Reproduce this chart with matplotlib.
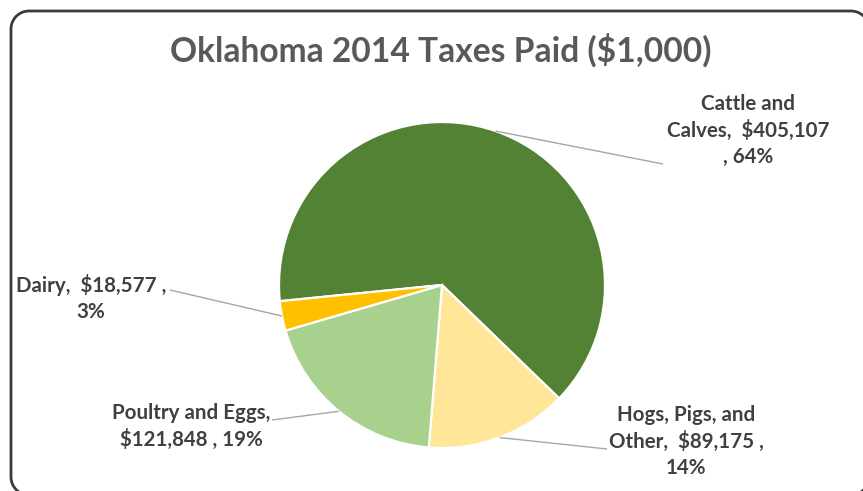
import matplotlib
matplotlib.use("Agg")
import matplotlib.pyplot as plt
import numpy as np
from matplotlib.lines import Line2D
from matplotlib.transforms import IdentityTransform

# Data
categories = ["Cattle and Calves", "Hogs, Pigs, and Other", "Poultry and Eggs", "Dairy"]
values = [405107, 89175, 121848, 18577]
colors = ["#548235", "#FFE699", "#A9D18E", "#FFC000"]
title = "Oklahoma 2014 Taxes Paid ($1,000)"

# Label layouts (line breaks per slice)
label_templates = [
    "Cattle and\nCalves,  ${v:,}\n, {p}%",
    "Hogs, Pigs, and\nOther,  ${v:,} ,\n{p}%",
    "Poultry and Eggs,\n${v:,} , {p}%",
    "Dairy,  ${v:,} ,\n{p}%",
]

W, H = 863, 491
FONT = ["Lato", "DejaVu Sans"]

fig = plt.figure(figsize=(W / 100, H / 100), dpi=100)
ax = fig.add_axes([0, 0, 1, 1])

# Pie geometry in pixel units (y measured from the bottom)
cx, cy, r = 442, H - 285, 163
wedges, _ = ax.pie(values, colors=colors, startangle=-174.3, counterclock=False,
                   center=(cx, cy), radius=r,
                   wedgeprops=dict(edgecolor="white", linewidth=1.6))

ax.set_xlim(0, W)
ax.set_ylim(0, H)
ax.set_aspect("equal")
ax.axis("off")

# Label positions (block centre) and leader-line endpoints, pixel coords from top
label_pos = [(748, 130.5), (686, 441.5), (191, 426.5), (91, 298)]
leader_end = [(663, 164), (607, 449), (272, 420), (170, 290)]

total = sum(values)
for w, v, tpl, (lx, ly), (ex, ey) in zip(wedges, values, label_templates, label_pos, leader_end):
    pct = round(v / total * 100)
    mid = np.deg2rad((w.theta1 + w.theta2) / 2)
    sx, sy = cx + r * np.cos(mid), cy + r * np.sin(mid)
    ax.plot([sx, ex], [sy, H - ey], color="#A6A6A6", lw=1.0, solid_capstyle="butt", zorder=1)
    ax.text(lx, H - ly, tpl.format(v=v, p=pct), ha="center", va="center",
            multialignment="center", fontsize=14.8, fontweight="bold",
            color="#404040", family=FONT, linespacing=1.38)

ax.text(440.5, H - 62, title, ha="center", va="baseline", fontsize=24.2,
        fontweight="bold", color="#595959", family=FONT)


def rounded_rect(x0, y0, x1, y1, rad, n=24):
    """Closed polyline for a rectangle with rounded corners (display pixels)."""
    pts = []
    corners = [(x1 - rad, y1 - rad, 0), (x0 + rad, y1 - rad, 90),
               (x0 + rad, y0 + rad, 180), (x1 - rad, y0 + rad, 270)]
    for ccx, ccy, a0 in corners:
        t = np.deg2rad(np.linspace(a0, a0 + 90, n))
        pts.extend(zip(ccx + rad * np.cos(t), ccy + rad * np.sin(t)))
    pts.append(pts[0])
    return np.array(pts)


# Chart border; right and bottom edges run just past the canvas
bx = rounded_rect(11, -4, W + 6, H - 11, 18)
fig.add_artist(Line2D(bx[:, 0], bx[:, 1], color="#3A3A3A", lw=2.0,
                      transform=IdentityTransform(), zorder=5))

fig.savefig("out.png", dpi=100, facecolor="white")
